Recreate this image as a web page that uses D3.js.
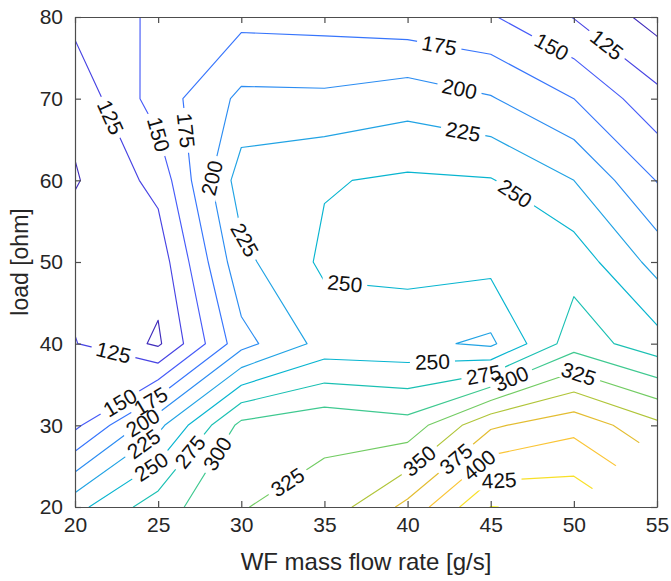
<!DOCTYPE html>
<html>
<head>
<meta charset="utf-8">
<script src="https://cdn.jsdelivr.net/npm/d3@7"></script>
<style>
  body { margin: 0; background: #ffffff; }
  text { font-family: "Liberation Sans", Arial, Helvetica, sans-serif; }
</style>
</head>
<body>
<svg id="chart" width="671" height="581"></svg>
<script>
// Grid columns: working-fluid mass flow rate [g/s]
const flowRates = [20, 25, 30, 35, 40, 45, 50, 55];
// Grid rows: load [ohm], listed from the top row down
const loads = [80, 70, 60, 50, 40, 30, 20];

// Measured values on the grid, one array per load row (null = not measured)
const row80 = [132, 155, 167.8, 166, 160, 152.3, 124, 90];
const row70 = [107, 162, 205.7, 205, 214, 202, 175, 132.6];
const row60 = [97.7, 133, 238, 248, 254, 251.5, 225, 174];
const row50 = [116, 110, 218, 255, 259, 257.6, 264.7, 216];
const row40 = [126, 96, 191, 234, 232, 220, 289, 260];
const row30 = [144, 218, 307, 319, 310, 371, 392, 356];
const row20 = [242, 289, 324, 334, 382, 450.5, 445, null];

// Contour levels
const levels = [100, 125, 150, 175, 200, 225, 250, 275, 300, 325, 350, 375, 400, 425, 450];

// Axis ticks
const xTicks = [20, 25, 30, 35, 40, 45, 50, 55];
const yTicks = [20, 30, 40, 50, 60, 70, 80];

// Inline contour labels: [level, flow rate, load] near where each label sits
const contourLabels = [
  [125, 22.0, 67.6], [150, 24.8, 65.5], [175, 26.6, 66.1], [200, 28.4, 60.2],
  [225, 30.2, 52.7], [250, 36.2, 46.8],
  [175, 41.9, 76.5], [200, 43.1, 71.0], [225, 43.3, 65.5], [250, 46.6, 58.8],
  [150, 48.7, 76.5], [125, 52.1, 76.9],
  [125, 22.3, 38.8],
  [150, 22.7, 32.8], [175, 24.4, 33.5], [200, 23.9, 30.9], [225, 23.9, 28.4],
  [250, 24.4, 25.5], [275, 27.0, 26.6], [300, 28.5, 26.6], [325, 32.7, 23.3],
  [250, 41.5, 37.6], [275, 44.6, 35.9], [300, 46.2, 35.9], [325, 50.2, 35.75],
  [350, 40.7, 25.7], [375, 43.0, 25.7], [400, 44.4, 24.9], [425, 45.5, 23.3]
];

// Parula-style colormap stops
const parulaT = [0, 4, 8, 12, 16, 20, 24, 28, 32, 36, 40, 44, 48, 52, 56, 60, 63].map(i => i / 63);
const parulaC = ["#3e26a8", "#4537d5", "#484df0", "#4563fd", "#327cfc", "#2b91ef", "#20a5e3",
                 "#08b5d0", "#19bfb6", "#37c897", "#63cd6f", "#9dc943", "#d1bf27", "#f8ba3d",
                 "#fccf30", "#f5e924", "#f9fb15"];

const W = 671, H = 581;
const svg = d3.select("#chart");

const x = d3.scaleLinear().domain(d3.extent(flowRates)).range([75, 657]);
const y = d3.scaleLinear().domain(d3.extent(loads)).range([507, 17]);

const rows = [row80, row70, row60, row50, row40, row30, row20];
const nx = flowRates.length, ny = loads.length;

// The contour routine needs a full grid: a missing node is continued
// from the plane of its neighbours; that area is clipped away below.
const grid = rows.map(r => r.slice());
for (let j = 0; j < ny; j++) {
  for (let i = 0; i < nx; i++) {
    if (grid[j][i] == null) {
      const dj = j > 0 ? -1 : 1, di = i > 0 ? -1 : 1;
      grid[j][i] = grid[j + dj][i] + grid[j][i + di] - grid[j + dj][i + di];
    }
  }
}

const contours = d3.contours().size([nx, ny]).thresholds(levels)(grid.flat());

// contour grid coordinates -> data -> pixels
const gx = d3.scaleLinear().domain([0.5, nx - 0.5]).range([flowRates[0], flowRates[nx - 1]]);
const gy = d3.scaleLinear().domain([0.5, ny - 0.5]).range([loads[0], loads[ny - 1]]);
const toPx = p => [x(gx(p[0])), y(gy(p[1]))];

const zVals = rows.flat().filter(v => v != null);
const tOf = d3.scaleLinear().domain(d3.extent(zVals)).range([0, 1]).clamp(true);
const cmap = d3.scaleLinear().domain(parulaT).range(parulaC).interpolate(d3.interpolateRgb);
const colorOf = v => cmap(tOf(v));

// Measured area (convex hull of the measured nodes) used as clip
const measured = [];
rows.forEach((r, j) => r.forEach((v, i) => { if (v != null) measured.push([x(flowRates[i]), y(loads[j])]); }));
const hull = d3.polygonHull(measured);

const defs = svg.append("defs");
defs.append("clipPath").attr("id", "hull-clip")
  .append("polygon").attr("points", hull.map(p => p.join(",")).join(" "));

// rings of each level in pixel space
const ringsByLevel = new Map();
contours.forEach(c => {
  const rings = [];
  c.coordinates.forEach(poly => poly.forEach(ring => rings.push(ring.map(toPx))));
  ringsByLevel.set(c.value, rings);
});

function nearestOnRings(rings, p) {
  let best = null;
  for (const ring of rings) {
    for (let k = 0; k < ring.length - 1; k++) {
      const a = ring[k], b = ring[k + 1];
      const dx = b[0] - a[0], dy = b[1] - a[1];
      const L2 = dx * dx + dy * dy;
      if (!L2) continue;
      let t = ((p[0] - a[0]) * dx + (p[1] - a[1]) * dy) / L2;
      t = Math.max(0, Math.min(1, t));
      const q = [a[0] + t * dx, a[1] + t * dy];
      const d = Math.hypot(q[0] - p[0], q[1] - p[1]);
      if (!best || d < best.d) best = { d, q, ang: Math.atan2(dy, dx) * 180 / Math.PI };
    }
  }
  return best;
}

const labelSize = 21;
const labelLayer = svg.append("g").attr("class", "contour-labels");
const gaps = new Map();
contourLabels.forEach(([lev, lx, ly]) => {
  const hit = nearestOnRings(ringsByLevel.get(lev) || [], [x(lx), y(ly)]);
  if (!hit) return;
  let a = hit.ang;
  while (a > 90) a -= 180;
  while (a <= -90) a += 180;
  const t = labelLayer.append("text")
    .attr("transform", `translate(${hit.q[0]},${hit.q[1]}) rotate(${a})`)
    .attr("text-anchor", "middle")
    .attr("dy", "0.36em")
    .attr("font-size", labelSize)
    .attr("fill", "#111")
    .text(lev);
  let w = 35;
  try { w = t.node().getComputedTextLength() || w; } catch (e) {}
  if (!gaps.has(lev)) gaps.set(lev, []);
  gaps.get(lev).push({ q: hit.q, a, w: w + 10, h: 18 });
});

// contour lines, each level broken where its labels sit
const lineLayer = svg.insert("g", ".contour-labels").attr("clip-path", "url(#hull-clip)");
contours.forEach((c, i) => {
  const rings = ringsByLevel.get(c.value);
  if (!rings.length) return;
  const d = rings.map(r => "M" + r.map(p => p[0].toFixed(2) + "," + p[1].toFixed(2)).join("L") + "Z").join("");
  const path = lineLayer.append("path")
    .attr("d", d)
    .attr("fill", "none")
    .attr("stroke", colorOf(c.value))
    .attr("stroke-width", 1.15)
    .attr("stroke-linejoin", "round");
  const g = gaps.get(c.value);
  if (g) {
    const m = defs.append("mask").attr("id", "gap-" + i)
      .attr("maskUnits", "userSpaceOnUse")
      .attr("x", 0).attr("y", 0).attr("width", W).attr("height", H);
    m.append("rect").attr("width", W).attr("height", H).attr("fill", "#fff");
    g.forEach(s => {
      m.append("rect")
        .attr("transform", `translate(${s.q[0]},${s.q[1]}) rotate(${s.a})`)
        .attr("x", -s.w / 2).attr("y", -s.h / 2)
        .attr("width", s.w).attr("height", s.h)
        .attr("fill", "#000");
    });
    path.attr("mask", `url(#gap-${i})`);
  }
});

// axes (box with inward ticks)
const axisColor = "#4d4d4d", textColor = "#262626";
function styleAxis(g) {
  g.selectAll(".domain").attr("stroke", axisColor).attr("stroke-width", 1.2);
  g.selectAll(".tick line").attr("stroke", axisColor).attr("stroke-width", 1.2);
  g.selectAll(".tick text").attr("fill", textColor).attr("font-size", 21)
    .attr("font-family", "'Liberation Sans', Arial, Helvetica, sans-serif");
}
svg.append("g").attr("transform", "translate(0,507)")
  .call(d3.axisBottom(x).tickValues(xTicks).tickFormat(d3.format("d")).tickSize(-6).tickSizeOuter(0).tickPadding(10))
  .call(styleAxis);
svg.append("g").attr("transform", "translate(0,17)")
  .call(d3.axisTop(x).tickValues(xTicks).tickFormat("").tickSize(-6).tickSizeOuter(0))
  .call(styleAxis);
svg.append("g").attr("transform", "translate(75,0)")
  .call(d3.axisLeft(y).tickValues(yTicks).tickFormat(d3.format("d")).tickSize(-6).tickSizeOuter(0).tickPadding(12))
  .call(styleAxis);
svg.append("g").attr("transform", "translate(657,0)")
  .call(d3.axisRight(y).tickValues(yTicks).tickFormat("").tickSize(-6).tickSizeOuter(0))
  .call(styleAxis);

// axis titles
svg.append("text")
  .attr("x", (x.range()[0] + x.range()[1]) / 2).attr("y", 570)
  .attr("text-anchor", "middle").attr("font-size", 24).attr("fill", textColor)
  .text("WF mass flow rate [g/s]");
svg.append("text")
  .attr("transform", `translate(28,${(y.range()[0] + y.range()[1]) / 2}) rotate(-90)`)
  .attr("text-anchor", "middle").attr("font-size", 23).attr("fill", textColor)
  .text("load [ohm]");
</script>
</body>
</html>
